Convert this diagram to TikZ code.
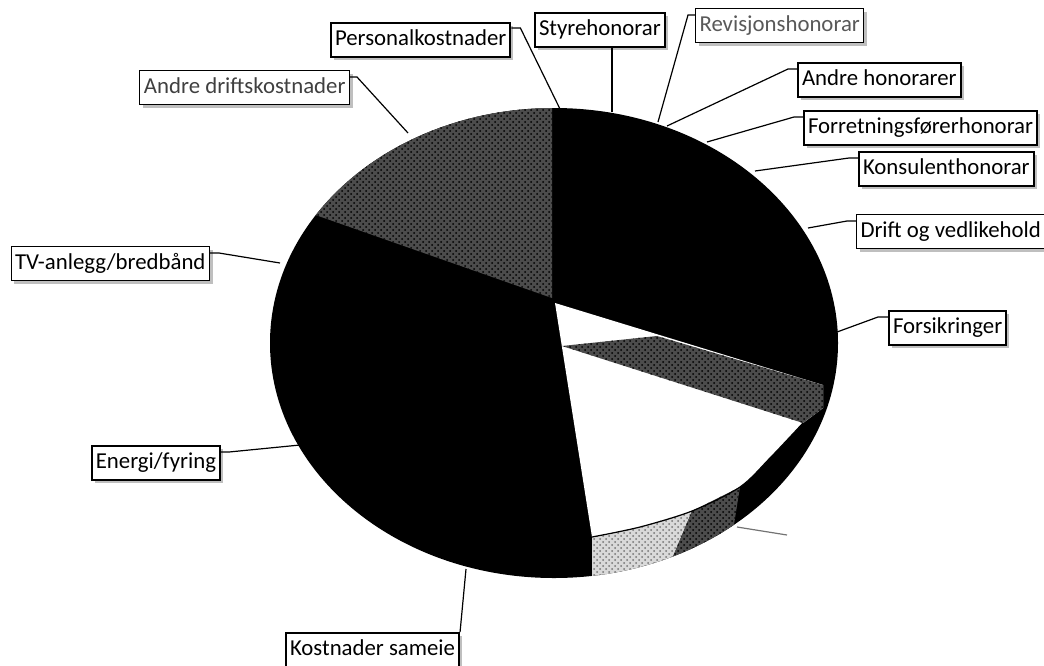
\documentclass[tikz,border=0pt]{standalone}
\usepackage{fontspec}
\setmainfont{Carlito}
\usetikzlibrary{calc,patterns,shadows}

\begin{document}
\begin{tikzpicture}[
    x=0.5pt, y=-0.5pt,
    lbl/.style={draw, line width=1pt, fill=white, inner xsep=2pt,
        minimum height=17pt, text height=8pt, text depth=2.5pt,
        font=\fontsize{11.4}{13}\selectfont,
        drop shadow={shadow xshift=1.5pt, shadow yshift=-1.5pt, fill=black!25, opacity=1}},
    lblthin/.style={lbl, line width=0.5pt},
    leader/.style={draw, line width=0.6pt},
    darkpat/.style={preaction={fill=black!70}, pattern=crosshatch dots, pattern color=black},
    lightpat/.style={preaction={fill=black!15}, pattern=crosshatch dots, pattern color=black!55}
]
\useasboundingbox (0,0) rectangle (1044,665);

% pie body
\fill[black] (554,343) ellipse [x radius=284, y radius=235];
\begin{scope}
    \clip (554,343) ellipse [x radius=284, y radius=235];
    % Andre driftskostnader
    \fill[darkpat] (552,298) -- (250,192) -- (250,60) -- (552,60) -- cycle;
    % open top face
    \fill[white] (555,303) -- (823,385) -- (823,408) -- (803,423)
        -- plot[smooth] coordinates {(803,423) (770,458) (740,487) (692,511) (640,527) (592,537)}
        -- cycle;
    % Forsikringer
    \fill[darkpat] (562,346) -- (657,336) -- (823,385) -- (823,408) -- (803,423) -- cycle;
    % side band
    \fill[lightpat] (592,537) -- (640,527) -- (692,511) -- (664,578) -- (592,600) -- cycle;
    \fill[darkpat] (692,511) -- (740,487) -- (727,568) -- (664,578) -- cycle;
    \draw[line width=0.6pt] plot[smooth] coordinates {(803,423) (770,458) (740,487) (692,511) (640,527) (592,537)};
\end{scope}

% labels
\node[lbl, anchor=north west] (pers) at (330,22) {Personalkostnader};
\node[lbl, anchor=north west] (styre) at (534,12) {Styrehonorar};
\node[lblthin, anchor=north west, text=black!65] (revis) at (695,8) {Revisjonshonorar};
\node[lbl, anchor=north west] (andrehon) at (797,62) {Andre honorarer};
\node[lbl, anchor=north west] (forr) at (803,110) {Forretningsførerhonorar};
\node[lbl, anchor=north west] (kons) at (858,151) {Konsulenthonorar};
\node[lblthin, anchor=north west] (drift) at (856,214) {Drift og vedlikehold};
\node[lbl, anchor=north west] (fors) at (888,310) {Forsikringer};
\node[lblthin, anchor=north east] (tv) at (210,246) {TV-anlegg/bredbånd};
\node[lbl, anchor=north east] (energi) at (221,445) {Energi/fyring};
\node[lbl, anchor=north west] (kostn) at (285,632) {Kostnader sameie};
\node[lblthin, anchor=north east, text=black!75] (andredrift) at (350,70) {Andre driftskostnader};

% leader ends on the pie
\coordinate (persP) at (560,109);
\coordinate (styreP) at (612,112);
\coordinate (revisP) at (658,122);
\coordinate (andrehonP) at (667,126);
\coordinate (forrP) at (707,142);
\coordinate (konsP) at (755,171);
\coordinate (driftP) at (808,228);
\coordinate (forsP) at (837,332);
\coordinate (tvP) at (280,263);
\coordinate (energiP) at (300,445);
\coordinate (kostnP) at (466,569);
\coordinate (andredriftP) at (408,133);
\coordinate (restP) at (737,527);
\coordinate (restE) at (787,535);

% leaders
\draw[leader] (persP) -- ($(pers.north east)+(9,6)$) -- ($(pers.north east)+(0,6)$);
\draw[leader] (styreP) -- (styreP |- styre.south);
\draw[leader] (revisP) -- ($(revis.north west)+(-7,7)$) -- ($(revis.north west)+(0,7)$);
\draw[leader] (andrehonP) -- ($(andrehon.north west)+(-9,7)$) -- ($(andrehon.north west)+(0,7)$);
\draw[leader] (forrP) -- ($(forr.north west)+(-9,7)$) -- ($(forr.north west)+(0,7)$);
\draw[leader] (konsP) -- ($(kons.north west)+(-9,7)$) -- ($(kons.north west)+(0,7)$);
\draw[leader] (driftP) -- ($(drift.north west)+(-9,7)$) -- ($(drift.north west)+(0,7)$);
\draw[leader] (forsP) -- ($(fors.north west)+(-10,7)$) -- ($(fors.north west)+(0,7)$);
\draw[leader] (tvP) -- ($(tv.north east)+(9,7)$) -- ($(tv.north east)+(0,7)$);
\draw[leader] (energiP) -- ($(energi.north east)+(8,7)$) -- ($(energi.north east)+(0,7)$);
\draw[leader] (kostnP) -- (kostn.north east);
\draw[leader] (andredriftP) -- ($(andredrift.north east)+(7,7)$) -- ($(andredrift.north east)+(0,7)$);
\draw[leader, black!55] (restP) -- (restE);
\end{tikzpicture}
\end{document}
